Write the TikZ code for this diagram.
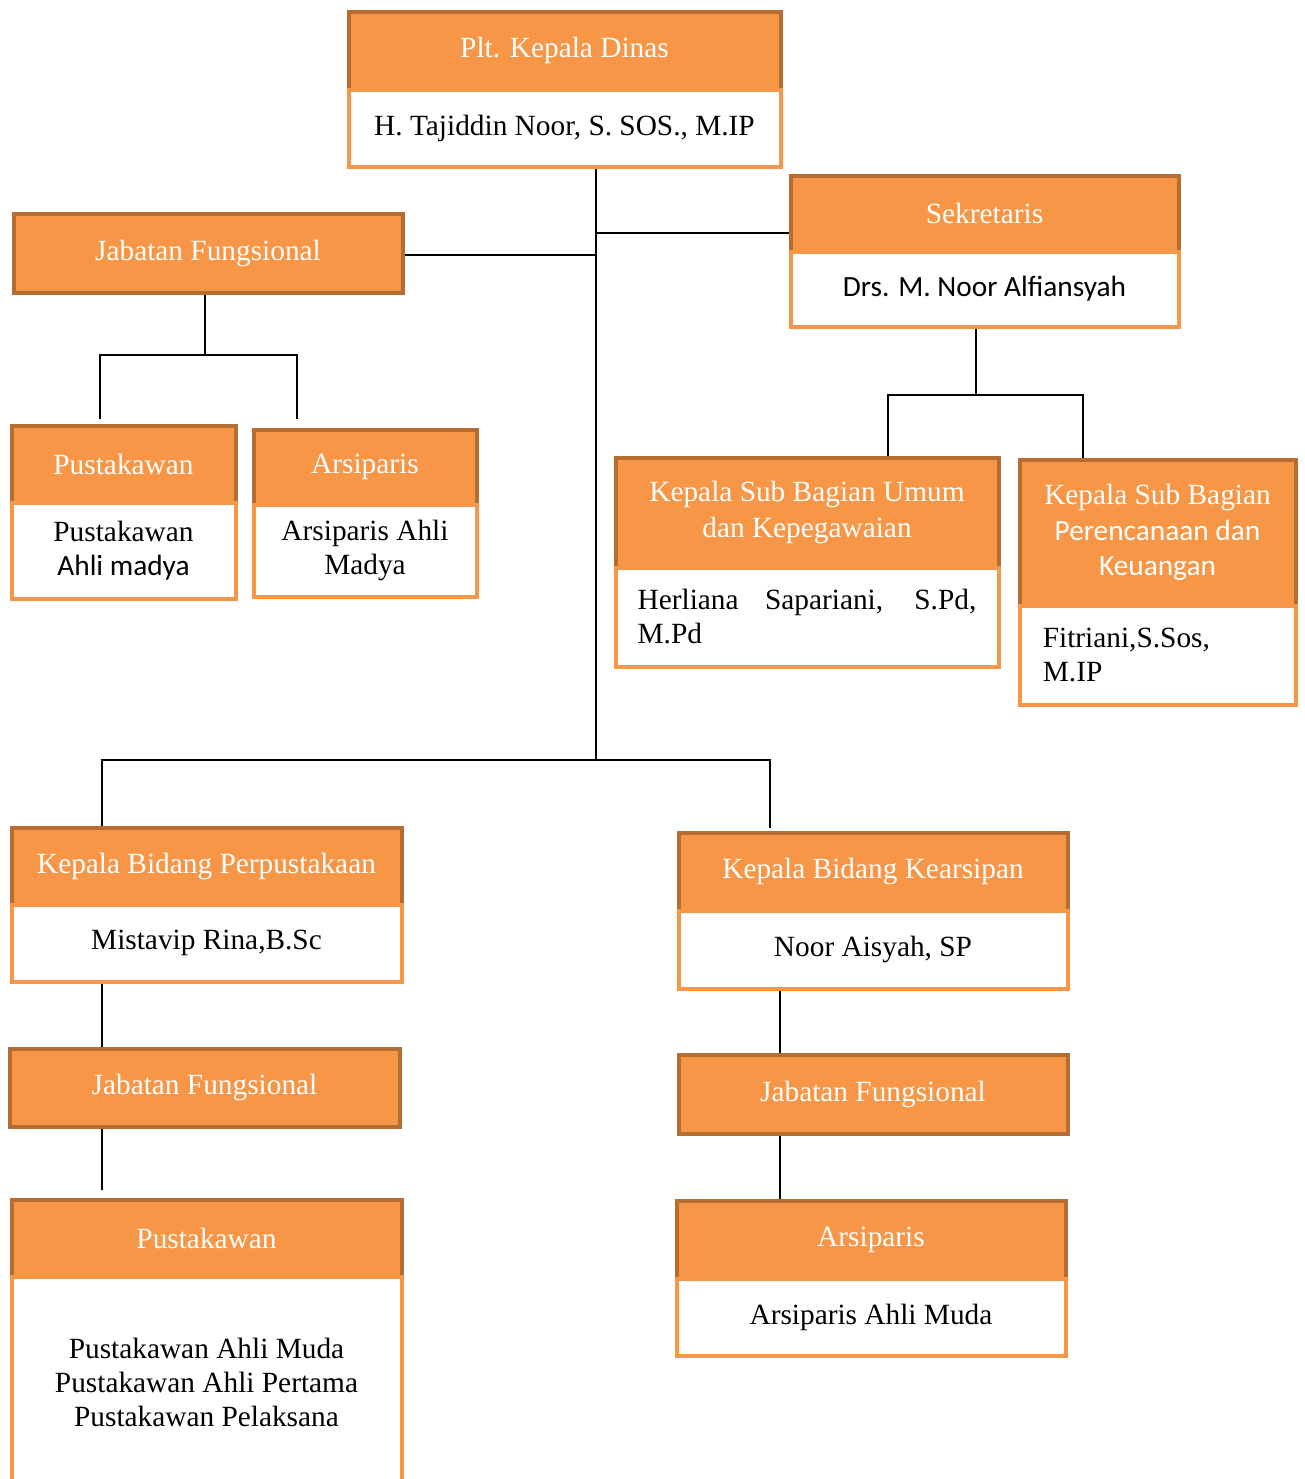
\documentclass[tikz,border=0pt]{standalone}
\usepackage{fontspec}
\setmainfont{Liberation Serif}
\newfontfamily\calibrifont{Carlito}
\usetikzlibrary{positioning}

\definecolor{hdrfill}{RGB}{247,150,70}
\definecolor{hdrline}{RGB}{182,109,49}

\tikzset{every picture/.style={line width=0.75pt}}
\tikzset{
  wh/.style 2 args={minimum width={(#1-1)*0.75pt}, minimum height={(#2-1)*0.75pt}},
  hdr/.style={draw=hdrline, fill=hdrfill, line width=3pt, text=white, align=center, inner sep=0pt, font=\fontsize{22}{26.5}\selectfont},
  body/.style={draw=hdrfill, fill=white, line width=3pt, text=black, align=center, inner sep=0pt, font=\fontsize{22}{25.5}\selectfont},
  link/.style={draw=black, line width=1.2pt}
}

\begin{document}
\begin{tikzpicture}[x=0.75pt,y=0.75pt,yscale=-1,xscale=1]
\useasboundingbox (0,0) rectangle (1304,1479);

% Plt. Kepala Dinas
\node [hdr, wh={433}{79}] (kadis) at (564.5,50.5) {Plt. Kepala Dinas};
\node [body, wh={433}{78}, below=-3pt of kadis] (kadisn) {H. Tajiddin Noor, S. SOS., M.IP};

% Sekretaris
\node [hdr, wh={389}{77}] (sek) at (984.5,213.5) {Sekretaris};
\node [body, wh={389}{76}, below=-3pt of sek] (sekn) {\calibrifont Drs. M. Noor Alfiansyah};

% Jabatan Fungsional (atas)
\node [hdr, wh={390}{80}] (jf1) at (208,253) {Jabatan Fungsional};

% Pustakawan / Arsiparis (atas)
\node [hdr, wh={225}{78}] (pusA) at (123.5,464) {Pustakawan};
\node [body, wh={225}{97}, below=-3pt of pusA] (pusAn) {Pustakawan\\{\calibrifont Ahli madya}};
\node [hdr, wh={224}{76}] (arsA) at (365,467) {Arsiparis};
\node [body, wh={224}{93}, below=-3pt of arsA] (arsAn) {Arsiparis Ahli\\Madya};

% Kepala Sub Bagian
\node [hdr, wh={384}{111}] (subU) at (807,512.5) {Kepala Sub Bagian Umum\\dan Kepegawaian};
\node [body, wh={384}{100}, below=-3pt of subU] (subUn) {\parbox{254pt}{Herliana Sapariani, S.Pd,\linebreak M.Pd}};
\node [hdr, wh={277}{147}] (subP) at (1157.5,532.5) {Kepala Sub Bagian\\{\calibrifont Perencanaan dan}\\{\calibrifont Keuangan}};
\node [body, wh={277}{100}, below=-3pt of subP] (subPn) {\parbox{172pt}{Fitriani,S.Sos,\\M.IP}};

% Kepala Bidang
\node [hdr, wh={391}{78}] (kbP) at (206.5,866) {Kepala Bidang Perpustakaan};
\node [body, wh={391}{78}, below=-3pt of kbP] (kbPn) {Mistavip Rina,B.Sc};
\node [hdr, wh={390}{79}] (kbA) at (873,871.5) {Kepala Bidang Kearsipan};
\node [body, wh={390}{79}, below=-3pt of kbA] (kbAn) {Noor Aisyah, SP};

% Jabatan Fungsional (bawah)
\node [hdr, wh={391}{79}] (jf2) at (204.5,1087.5) {Jabatan Fungsional};
\node [hdr, wh={390}{80}] (jf3) at (873,1094) {Jabatan Fungsional};

% Pustakawan / Arsiparis (bawah)
\node [hdr, wh={391}{78}] (pusB) at (206.5,1238) {Pustakawan};
\node [body, wh={391}{212}, below=-3pt of pusB] (pusBn) {Pustakawan Ahli Muda\\Pustakawan Ahli Pertama\\Pustakawan Pelaksana};
\node [hdr, wh={390}{79}] (arsB) at (871,1239.5) {Arsiparis};
\node [body, wh={390}{78}, below=-3pt of arsB] (arsBn) {Arsiparis Ahli Muda};

% junctions
\coordinate (tA) at (596,233);
\coordinate (tB) at (596,255);
\coordinate (tC) at (596,760);
\coordinate (jfK) at (205,355);
\coordinate (jfL) at (100,419);
\coordinate (jfR) at (297,419);
\coordinate (sekK) at (976,395);
\coordinate (sUx) at (888,395);
\coordinate (sPx) at (1083,395);
\coordinate (bL) at (102,760);
\coordinate (bR) at (770,760);
\coordinate (rX) at (780,0);

% Connectors
\draw [link] (kadisn.south -| tC) -- (tC);
\draw [link] (tA) -- (tA -| sek.west);
\draw [link] (tB) -- (tB -| jf1.east);
\draw [link] (jf1.south -| jfK) -- (jfK);
\draw [link] (jfL) |- (jfK) -| (jfR);
\draw [link] (sekn.south -| sekK) -- (sekK);
\draw [link] (subU.north -| sUx) |- (sekK) -| (subP.north -| sPx);
\draw [link] (kbP.north -| bL) -- (bL) -- (bR) -- ([yshift=-2.25pt]bR |- kbA.north);
\draw [link] (kbPn.south -| bL) -- (jf2.north -| bL);
\draw [link] (jf2.south -| bL) -- ([yshift=-6pt]pusB.north -| bL);
\draw [link] (kbAn.south -| rX) -- (jf3.north -| rX);
\draw [link] (jf3.south -| rX) -- (arsB.north -| rX);

\end{tikzpicture}
\end{document}
